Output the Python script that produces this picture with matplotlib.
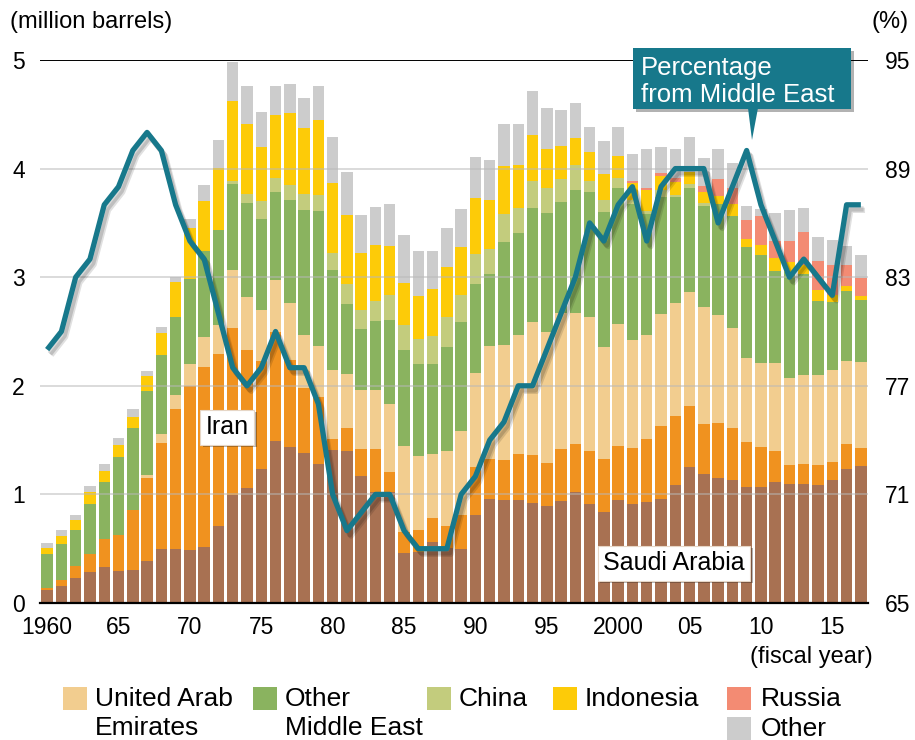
import matplotlib
matplotlib.use("Agg")
import matplotlib.pyplot as plt
import matplotlib.patheffects as pe
from matplotlib.patches import Rectangle, Polygon
import numpy as np

plt.rcParams['font.family'] = ['Liberation Sans', 'DejaVu Sans']

years = list(range(1960, 2018))

saudi = [0.12, 0.16, 0.23, 0.285, 0.33, 0.295, 0.30, 0.39, 0.50, 0.50,
         0.49, 0.52, 0.71, 0.99, 1.06, 1.23, 1.49, 1.44, 1.38, 1.28,
         1.41, 1.40, 1.17, 1.02, 1.02, 0.46, 0.47, 0.56, 0.51, 0.50,
         0.81, 0.96, 0.95, 0.95, 0.92, 0.89, 0.94, 1.02, 0.91, 0.84,
         0.95, 0.91, 0.93, 0.96, 1.09, 1.25, 1.19, 1.15, 1.13, 1.07,
         1.07, 1.11, 1.10, 1.10, 1.09, 1.13, 1.23, 1.26]
iran = [0.02, 0.05, 0.11, 0.165, 0.26, 0.33, 0.555, 0.765, 0.97, 1.29,
        1.51, 1.655, 1.58, 1.54, 1.27, 1.00, 1.01, 0.80, 0.60, 0.62,
        0.10, 0.21, 0.25, 0.40, 0.19, 0.19, 0.20, 0.22, 0.20, 0.31,
        0.44, 0.37, 0.37, 0.42, 0.44, 0.40, 0.48, 0.44, 0.49, 0.49,
        0.50, 0.52, 0.58, 0.67, 0.63, 0.56, 0.46, 0.51, 0.48, 0.41,
        0.37, 0.29, 0.17, 0.18, 0.18, 0.17, 0.23, 0.17]
uae = [0, 0, 0, 0, 0, 0, 0, 0.025, 0.09, 0.125,
       0.20, 0.275, 0.27, 0.54, 0.49, 0.47, 0.47, 0.52, 0.49, 0.47,
       0.64, 0.50, 0.54, 0.54, 0.62, 0.80, 0.68, 0.59, 0.69, 0.77,
       0.87, 1.04, 1.06, 1.10, 1.23, 1.21, 1.25, 1.21, 1.23, 1.03,
       1.12, 0.99, 0.96, 1.03, 1.04, 1.05, 1.08, 0.99, 0.92, 0.78,
       0.77, 0.81, 0.80, 0.82, 0.83, 0.85, 0.77, 0.79]
other_me = [0.31, 0.33, 0.33, 0.46, 0.52, 0.72, 0.76, 0.77, 0.72, 0.715,
            0.78, 0.79, 0.875, 0.79, 0.86, 0.84, 0.81, 0.95, 1.15, 1.24,
            0.92, 0.64, 0.56, 0.64, 0.78, 0.88, 0.85, 0.83, 0.96, 1.01,
            0.82, 0.66, 0.94, 0.94, 1.05, 1.09, 1.02, 1.13, 1.15, 1.24,
            1.25, 1.25, 1.11, 1.08, 0.98, 0.96, 0.93, 1.02, 1.03, 1.02,
            0.99, 0.85, 0.98, 0.93, 0.68, 0.62, 0.64, 0.57]
china = [0, 0, 0, 0, 0, 0, 0, 0, 0, 0,
         0, 0, 0, 0.03, 0.09, 0.16, 0.13, 0.14, 0.15, 0.15,
         0.15, 0.19, 0.18, 0.18, 0.23, 0.23, 0.23, 0.26, 0.27, 0.25,
         0.27, 0.23, 0.26, 0.23, 0.25, 0.23, 0.21, 0.23, 0.11, 0.11,
         0.09, 0.04, 0.03, 0.06, 0.02, 0.04, 0.02, 0, 0, 0,
         0, 0, 0, 0, 0, 0, 0, 0]
indonesia = [0.06, 0.08, 0.09, 0.11, 0.11, 0.11, 0.095, 0.14, 0.21, 0.325,
             0.475, 0.465, 0.575, 0.73, 0.64, 0.50, 0.58, 0.66, 0.60, 0.69,
             0.65, 0.63, 0.52, 0.52, 0.45, 0.39, 0.40, 0.43, 0.46, 0.44,
             0.52, 0.45, 0.44, 0.39, 0.42, 0.36, 0.31, 0.25, 0.26, 0.24,
             0.21, 0.16, 0.19, 0.13, 0.12, 0.11, 0.10, 0.08, 0.11, 0.07,
             0.10, 0.12, 0.09, 0.08, 0.10, 0.07, 0.05, 0.04]
russia = [0] * 41 + [0.02, 0.02, 0.03, 0.03, 0, 0.06, 0.15, 0.15, 0.18,
                     0.26, 0.15, 0.19, 0.31, 0.27, 0.27, 0.19, 0.16]
other = [0.045, 0.05, 0.05, 0.06, 0.06, 0.065, 0.08, 0.05, 0.05, 0.045,
         0.08, 0.145, 0.25, 0.36, 0.35, 0.32, 0.27, 0.27, 0.28, 0.31,
         0.42, 0.40, 0.35, 0.35, 0.38, 0.44, 0.41, 0.35, 0.36, 0.35,
         0.38, 0.37, 0.39, 0.38, 0.40, 0.38, 0.33, 0.32, 0.23, 0.30,
         0.26, 0.24, 0.36, 0.24, 0.27, 0.32, 0.26, 0.28, 0.23, 0.13,
         0.07, 0.26, 0.29, 0.22, 0.22, 0.23, 0.18, 0.21]
pct_middle_east = [79, 80, 83, 84, 87, 88, 90, 91, 90, 87,
                   85, 84, 81, 78, 77, 78, 80, 78, 78, 76,
                   71, 69, 70, 71, 71, 69, 68, 68, 68, 71,
                   72, 74, 75, 77, 77, 79, 81, 83, 86, 85,
                   87, 88, 85, 88, 89, 89, 89, 86, 88, 90,
                   87, 85, 83, 84, 83, 82, 87, 87]

series = [
    ("Saudi Arabia", saudi, "#a87152"),
    ("Iran", iran, "#f0921f"),
    ("United Arab Emirates", uae, "#f2cd8f"),
    ("Other Middle East", other_me, "#8ab35f"),
    ("China", china, "#c3cc7d"),
    ("Indonesia", indonesia, "#fdcb08"),
    ("Russia", russia, "#f38b73"),
    ("Other", other, "#cccccc"),
]
teal = "#17788b"

W, H = 915, 740
fig = plt.figure(figsize=(W / 100, H / 100), dpi=100)

def fx(x):
    return x / W

def fy(y):
    return 1 - y / H

ax = fig.add_axes([fx(40), fy(603), (868 - 40) / W, (603 - 60) / H])
ax.set_xlim(1959.5, 2017.5)
ax.set_ylim(0, 5)

bottom = np.zeros(len(years))
for name, vals, col in series:
    v = np.array(vals, dtype=float)
    ax.bar(years, v, width=0.8, bottom=bottom, color=col, linewidth=0, zorder=2)
    bottom += v

for g in [1, 2, 3, 4]:
    ax.axhline(g, color="#b8b8b8", lw=1.3, alpha=0.55, zorder=3)
ax.axhline(5, color="black", lw=1.4, zorder=3)

for s in ["top", "left", "right"]:
    ax.spines[s].set_visible(False)
ax.spines["bottom"].set_linewidth(1.6)
ax.spines["bottom"].set_zorder(4)

ax.set_yticks([0, 1, 2, 3, 4, 5])
ax.set_yticklabels(["0", "1", "2", "3", "4", "5"])
ax.tick_params(axis="y", length=0, labelsize=16.5, pad=11)
xt = [1960, 1965, 1970, 1975, 1980, 1985, 1990, 1995, 2000, 2005, 2010, 2015]
xl = ["1960", "65", "70", "75", "80", "85", "90", "95", "2000", "05", "10", "15"]
ax.set_xticks(xt)
ax.set_xticklabels(xl)
ax.tick_params(axis="x", length=0, labelsize=16.5, pad=9)

ax2 = ax.twinx()
ax2.set_ylim(65, 95)
ax2.set_yticks([65, 71, 77, 83, 89, 95])
ax2.tick_params(axis="y", length=0, labelsize=16.5, pad=12)
for s in ["top", "left", "right", "bottom"]:
    ax2.spines[s].set_visible(False)

ax2.plot(years, pct_middle_east, color=teal, lw=3.8, solid_joinstyle="round",
         solid_capstyle="butt", zorder=5,
         path_effects=[pe.SimpleLineShadow(offset=(3, -4), shadow_color="black", alpha=0.12),
                       pe.SimpleLineShadow(offset=(2, -3), shadow_color="black", alpha=0.15),
                       pe.Normal()])

# Labels
def label_box(x, y, text):
    t = fig.text(fx(x), fy(y), text, ha="center", va="center", fontsize=18, color="black",
                 bbox=dict(boxstyle="square,pad=0.22", fc="white", ec="#e6d6c6", lw=0.8),
                 zorder=10)
    t.get_bbox_patch().set_path_effects([pe.withSimplePatchShadow(offset=(2, -2), shadow_rgbFace="black", alpha=0.3)])
    return t

label_box(227, 427, "Iran")
label_box(674, 563, "Saudi Arabia")

# Percentage callout
box = Rectangle((fx(633), fy(109)), (851 - 633) / W, (109 - 48) / H, transform=fig.transFigure,
                facecolor=teal, edgecolor="none", zorder=10,
                path_effects=[pe.withSimplePatchShadow(offset=(2, -2), shadow_rgbFace="black", alpha=0.3)])
fig.patches.append(box)
tri = Polygon([(fx(748), fy(108)), (fx(758), fy(108)), (fx(752), fy(140))], closed=True,
              transform=fig.transFigure, facecolor=teal, edgecolor="none", zorder=10)
fig.patches.append(tri)
fig.text(fx(641), fy(68), "Percentage", color="white", fontsize=18.5, ha="left", va="center", zorder=11)
fig.text(fx(641), fy(95), "from Middle East", color="white", fontsize=18.5, ha="left", va="center", zorder=11)

fig.text(fx(10), fy(22), "(million barrels)", fontsize=17, ha="left", va="center")
fig.text(fx(909), fy(22), "(%)", fontsize=17, ha="right", va="center")
fig.text(fx(811), fy(657), "(fiscal year)", fontsize=17, ha="center", va="center")

# Legend
leg = [
    (63, 687, "#f2cd8f", 95, ["United Arab", "Emirates"]),
    (253, 687, "#8ab35f", 285, ["Other", "Middle East"]),
    (427, 687, "#c3cc7d", 459, ["China"]),
    (553, 687, "#fdcb08", 585, ["Indonesia"]),
    (727, 687, "#f38b73", 761, ["Russia"]),
    (727, 717, "#cccccc", 761, ["Other"]),
]
for sx, sy, col, tx, lines in leg:
    fig.patches.append(Rectangle((fx(sx), fy(sy + 23)), 24 / W, 23 / H, transform=fig.transFigure,
                                 facecolor=col, edgecolor="none"))
    for i, ln in enumerate(lines):
        fig.text(fx(tx), fy(sy + 12 + 29 * i), ln, fontsize=19, ha="left", va="center")

fig.savefig("out.png", dpi=100)
